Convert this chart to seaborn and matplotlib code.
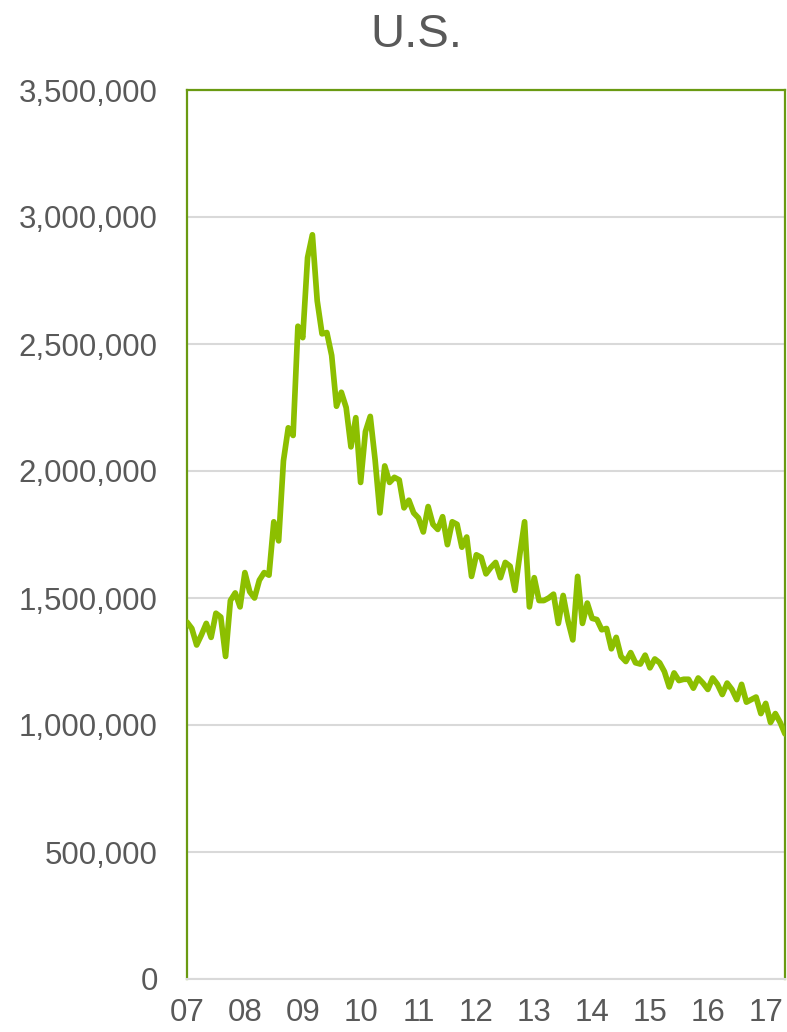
import matplotlib
matplotlib.use("Agg")
import matplotlib.pyplot as plt
import matplotlib.ticker as mticker
import numpy as np
import pandas as pd
import seaborn as sns

# Monthly series, Jan 2007 - May 2017
values = [
    1.405, 1.380, 1.315, 1.355, 1.400, 1.345, 1.440, 1.425, 1.270, 1.490,
    1.520, 1.465, 1.600, 1.525, 1.500, 1.570, 1.600, 1.590, 1.800, 1.725,
    2.040, 2.170, 2.140, 2.570, 2.525, 2.840, 2.930, 2.670, 2.540, 2.545,
    2.455, 2.255, 2.310, 2.250, 2.095, 2.210, 1.955, 2.155, 2.215, 2.045,
    1.835, 2.020, 1.955, 1.975, 1.965, 1.855, 1.885, 1.835, 1.815, 1.760,
    1.860, 1.790, 1.770, 1.820, 1.710, 1.800, 1.790, 1.700, 1.740, 1.585,
    1.670, 1.660, 1.595, 1.620, 1.640, 1.580, 1.640, 1.625, 1.530, 1.670,
    1.800, 1.465, 1.580, 1.490, 1.490, 1.500, 1.515, 1.400, 1.510, 1.410,
    1.335, 1.585, 1.400, 1.480, 1.420, 1.415, 1.375, 1.380, 1.300, 1.345,
    1.270, 1.250, 1.285, 1.245, 1.240, 1.275, 1.225, 1.260, 1.245, 1.210,
    1.150, 1.205, 1.175, 1.180, 1.180, 1.145, 1.185, 1.165, 1.140, 1.185,
    1.160, 1.120, 1.165, 1.140, 1.100, 1.160, 1.090, 1.100, 1.110, 1.045,
    1.085, 1.010, 1.045, 1.010, 0.965,
]
values = [v * 1_000_000 for v in values]
months = list(range(len(values)))
year_labels = ["07", "08", "09", "10", "11", "12", "13", "14", "15", "16", "17"]
y_ticks = [0, 500_000, 1_000_000, 1_500_000, 2_000_000, 2_500_000, 3_000_000, 3_500_000]
title = "U.S."

df = pd.DataFrame({"month": months, "value": values})

sns.set_theme(style="white")
plt.rcParams["font.family"] = ["Liberation Sans", "DejaVu Sans"]

text_color = "#595959"
line_color = "#8cbf00"
frame_color = "#6a9a12"
grid_color = "#d9d9d9"

fig = plt.figure(figsize=(7.87, 10.32), dpi=100)
ax = fig.add_axes([187 / 787, 1 - 979 / 1032, (785 - 187) / 787, (979 - 90) / 1032])

sns.lineplot(data=df, x="month", y="value", ax=ax, color=line_color,
             linewidth=4.1, solid_joinstyle="round", solid_capstyle="round",
             clip_on=True, zorder=3)

ax.set_xlim(0, len(values) - 1)
ax.set_ylim(0, 3_500_000)
ax.set_xticks([12 * i for i in range(len(year_labels))])
ax.set_xticklabels(year_labels)
ax.set_yticks(y_ticks)
ax.yaxis.set_major_formatter(mticker.FuncFormatter(lambda v, p: f"{int(v):,}"))
ax.set_xlabel("")
ax.set_ylabel("")

ax.grid(axis="y", color=grid_color, linewidth=1.5, zorder=0)
ax.grid(axis="x", visible=False)
ax.tick_params(axis="both", length=0, labelsize=22.5, labelcolor=text_color)
ax.tick_params(axis="y", pad=21)
ax.tick_params(axis="x", pad=14)

for side in ("left", "top", "right"):
    ax.spines[side].set_color(frame_color)
    ax.spines[side].set_linewidth(1.6)
ax.spines["bottom"].set_color(grid_color)
ax.spines["bottom"].set_linewidth(1.5)

fig.text(416 / 787, 1 - 35 / 1032, title, ha="center", va="center",
         fontsize=34, color=text_color)

fig.savefig("out.png", dpi=100, facecolor="white")
